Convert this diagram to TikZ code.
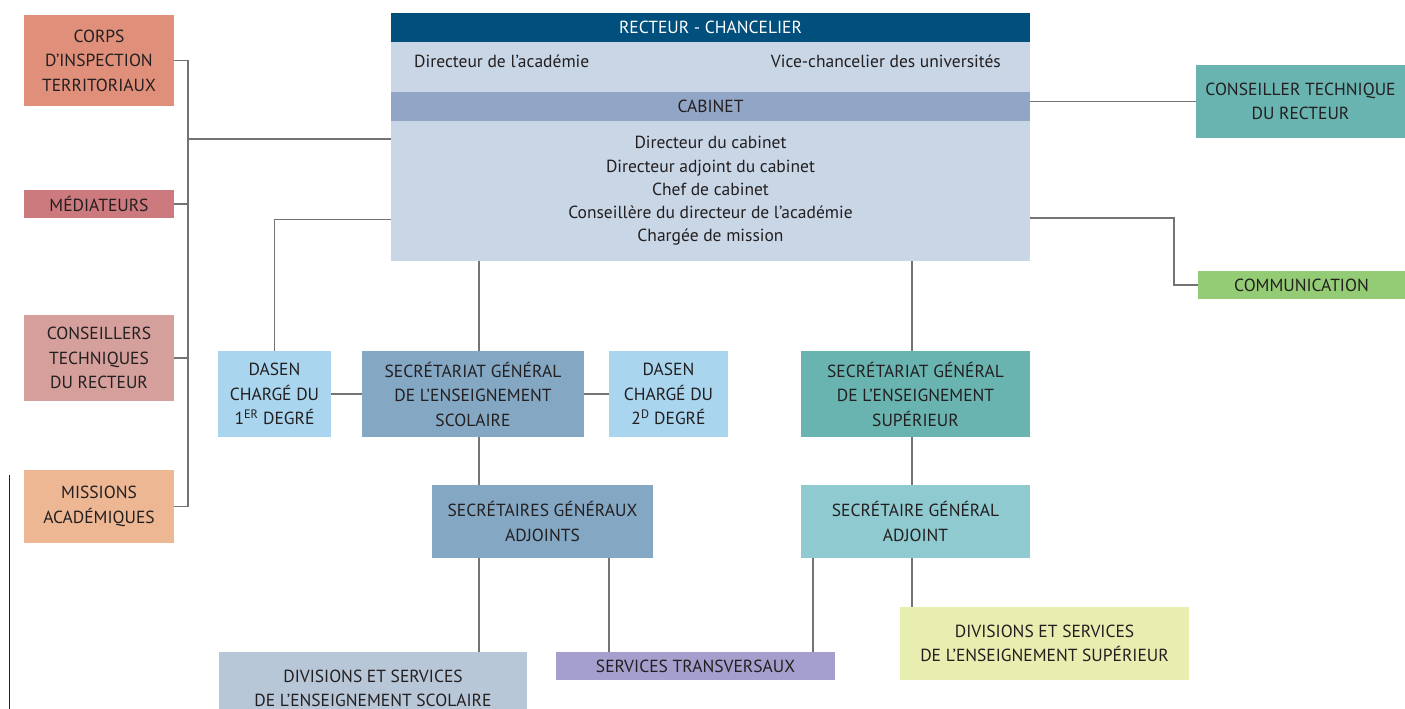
\documentclass[tikz,border=0pt]{standalone}
\usepackage{fontspec}
\setmainfont{PT Sans}
\usepackage{tikz}
\usetikzlibrary{positioning,calc}
\definecolor{bleufonce}{RGB}{0,79,124}
\definecolor{bleupale}{RGB}{200,214,230}
\definecolor{bleucab}{RGB}{145,166,198}
\definecolor{saumon}{RGB}{224,144,122}
\definecolor{rosemed}{RGB}{205,122,126}
\definecolor{roseconseil}{RGB}{213,160,156}
\definecolor{peche}{RGB}{237,183,148}
\definecolor{turquoise}{RGB}{105,180,176}
\definecolor{vert}{RGB}{147,204,116}
\definecolor{ciel}{RGB}{169,213,239}
\definecolor{bleuacier}{RGB}{132,167,196}
\definecolor{eau}{RGB}{142,202,208}
\definecolor{grisbleu}{RGB}{184,199,216}
\definecolor{lavande}{RGB}{165,159,205}
\definecolor{jaunepale}{RGB}{232,238,176}
\definecolor{encre}{RGB}{35,31,32}
\definecolor{trait}{RGB}{115,115,115}

\begin{document}
\begin{tikzpicture}[x=1pt,y=-1pt,
  boite/.style={rectangle,inner sep=0pt,align=center,text=encre,
    font=\fontsize{17.5}{24.5}\selectfont},
  taille/.style 2 args={minimum width=#1,minimum height=#2},
  lien/.style={draw=trait,line width=1.2pt}]
\useasboundingbox (0,0) rectangle (1405,709);

% Colonne de gauche
\node[boite,fill=saumon,taille={150pt}{91pt}] (corps) at (99,60.5) {CORPS\\D’INSPECTION\\TERRITORIAUX};
\node[boite,fill=rosemed,taille={150pt}{28pt}] (mediateurs) at (99,204) {MÉDIATEURS};
\node[boite,fill=roseconseil,taille={150pt}{86pt}] (conseillers) at (99,358) {CONSEILLERS\\TECHNIQUES\\DU RECTEUR};
\node[boite,fill=peche,taille={150pt}{73pt}] (missions) at (99,506.5) {MISSIONS\\ACADÉMIQUES};

% Bloc central
\node[boite,fill=bleufonce,text=white,taille={639pt}{29pt}] (recteur) at (710.5,27.5) {RECTEUR - CHANCELIER};
\node[boite,fill=bleupale,taille={639pt}{50pt}] (titres) at (710.5,67) {};
\node[boite,anchor=west] (directeur) at (414,61) {Directeur de l’académie};
\node[boite,anchor=east] (vice) at (1001,61) {Vice-chancelier des universités};
\node[boite,fill=bleucab,taille={639pt}{29pt}] (cabinet) at (710.5,106.5) {CABINET};
\node[boite,fill=bleupale,taille={639pt}{140pt},font=\fontsize{17.5}{23.3}\selectfont] (cabbody) at (710.5,191)
  {Directeur du cabinet\\Directeur adjoint du cabinet\\Chef de cabinet\\Conseillère du directeur de l’académie\\Chargée de mission};

% Droite
\node[boite,fill=turquoise,taille={209pt}{73pt}] (ctr) at (1300.5,101.5) {CONSEILLER TECHNIQUE\\DU RECTEUR};
\node[boite,fill=vert,taille={207pt}{28pt}] (comm) at (1301.5,285) {COMMUNICATION};

% Secretariats
\node[boite,fill=ciel,taille={113pt}{86pt}] (dasen1) at (274.5,394) {DASEN\\CHARGÉ DU\\1\textsuperscript{ER} DEGRÉ};
\node[boite,fill=bleuacier,taille={222pt}{86pt}] (sgscol) at (473,394) {SECRÉTARIAT GÉNÉRAL\\DE L’ENSEIGNEMENT\\SCOLAIRE};
\node[boite,fill=ciel,taille={119pt}{86pt}] (dasen2) at (668.5,394) {DASEN\\CHARGÉ DU\\2\textsuperscript{D} DEGRÉ};
\node[boite,fill=turquoise,taille={229pt}{86pt}] (sgsup) at (915.5,394) {SECRÉTARIAT GÉNÉRAL\\DE L’ENSEIGNEMENT\\SUPÉRIEUR};
\node[boite,fill=bleuacier,taille={221pt}{73pt}] (sgadj) at (542.5,521.5) {SECRÉTAIRES GÉNÉRAUX\\ADJOINTS};
\node[boite,fill=eau,taille={229pt}{73pt}] (sga) at (915.5,521.5) {SECRÉTAIRE GÉNÉRAL\\ADJOINT};

% Divisions et services
\node[boite,fill=grisbleu,taille={308pt}{73pt}] (divscol) at (373,688.5) {DIVISIONS ET SERVICES\\DE L’ENSEIGNEMENT SCOLAIRE};
\node[boite,fill=lavande,taille={279pt}{28pt}] (transv) at (695.5,666) {SERVICES TRANSVERSAUX};
\node[boite,fill=jaunepale,taille={289pt}{73pt}] (divsup) at (1044.5,643.5) {DIVISIONS ET SERVICES\\DE L’ENSEIGNEMENT SUPÉRIEUR};

% Liaisons
\coordinate (bus) at (188,139);
\coordinate (coude) at (1174,218);
\coordinate (axeS) at (479,0);
\coordinate (axeU) at (912,0);
\coordinate (axeT1) at (609,0);
\coordinate (axeT2) at (813,0);
\draw[lien] (corps.east) -| (bus) |- (missions.east);
\draw[lien] (mediateurs.east) -- (mediateurs.east -| bus);
\draw[lien] (conseillers.east) -- (conseillers.east -| bus);
\draw[lien] (bus) -- (bus -| cabbody.west);
\draw[lien] (dasen1.north) |- ([yshift=42pt]cabbody.south west);
\draw[lien] (ctr.west) -- (ctr.west -| cabbody.east);
\draw[lien] (coude -| cabbody.east) -- (coude) |- (comm.west);
\draw[lien] (dasen1.east) -- (sgscol.west);
\draw[lien] (sgscol.east) -- (dasen2.west);
\draw[lien] (axeS |- cabbody.south) -- (axeS |- sgscol.north);
\draw[lien] (axeS |- sgscol.south) -- (axeS |- sgadj.north);
\draw[lien] (axeS |- sgadj.south) -- (axeS |- divscol.north);
\draw[lien] (axeU |- cabbody.south) -- (axeU |- sgsup.north);
\draw[lien] (axeU |- sgsup.south) -- (axeU |- sga.north);
\draw[lien] (axeU |- sga.south) -- (axeU |- divsup.north);
\draw[lien] (axeT1 |- sgadj.south) -- (axeT1 |- transv.north);
\draw[lien] (axeT2 |- sga.south) -- (axeT2 |- transv.north);

% Trait isole en marge
\draw[encre,line width=1pt] (9,475) -- (9,709);
\end{tikzpicture}
\end{document}
